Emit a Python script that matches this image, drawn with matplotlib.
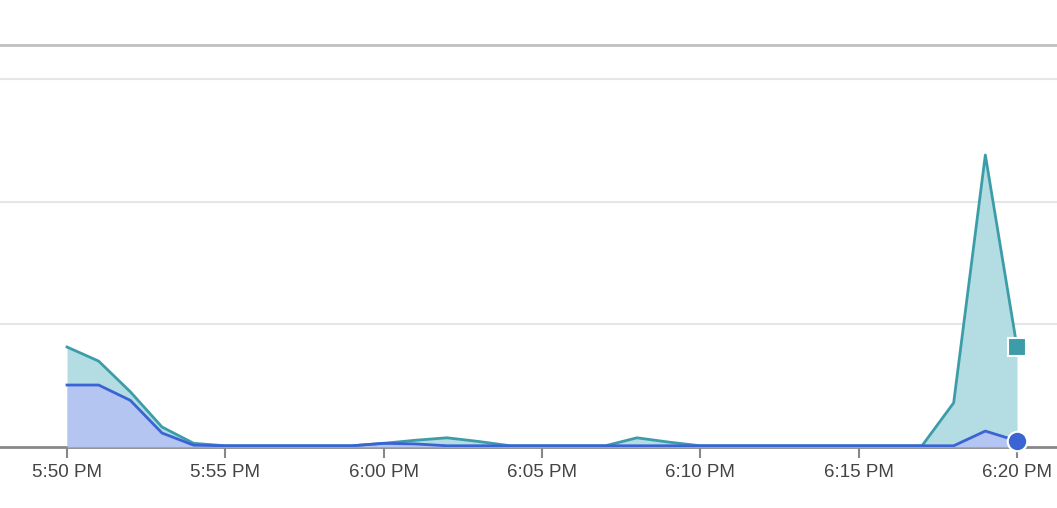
import matplotlib
matplotlib.use("Agg")
import matplotlib.pyplot as plt
import numpy as np

minutes = list(range(31))  # 5:50 PM .. 6:20 PM, one point per minute
teal_values = [0.815, 0.70, 0.45, 0.163, 0.03, 0.01, 0.01, 0.01, 0.01, 0.01,
               0.03, 0.055, 0.075, 0.045, 0.01, 0.01, 0.01, 0.01, 0.075, 0.04,
               0.01, 0.01, 0.01, 0.01, 0.01, 0.01, 0.01, 0.01, 0.36, 2.38, 0.815]
blue_values = [0.505, 0.505, 0.38, 0.114, 0.015, 0.01, 0.01, 0.01, 0.01, 0.01,
               0.03, 0.025, 0.01, 0.01, 0.01, 0.01, 0.01, 0.01, 0.01, 0.01,
               0.01, 0.01, 0.01, 0.01, 0.01, 0.01, 0.01, 0.01, 0.01, 0.13, 0.05]
tick_positions = [0, 5, 10, 15, 20, 25, 30]
tick_labels = ["5:50 PM", "5:55 PM", "6:00 PM", "6:05 PM", "6:10 PM", "6:15 PM", "6:20 PM"]

plt.rcParams['font.family'] = ['Liberation Sans', 'DejaVu Sans']

fig = plt.figure(figsize=(10.57, 5.08), dpi=100)
ax = fig.add_axes([0, 1 - 447 / 508, 1, (447 - 45) / 508])

teal_line = "#3c9da8"
teal_fill = "#b3dce3"
blue_line = "#3a63d4"
blue_fill = "#b5c5f1"

ax.fill_between(minutes, 0, teal_values, color=teal_fill, linewidth=0, zorder=2)
ax.fill_between(minutes, 0, blue_values, color=blue_fill, linewidth=0, zorder=3)
ax.plot(minutes, teal_values, color=teal_line, linewidth=2, zorder=4)
ax.plot(minutes, blue_values, color=blue_line, linewidth=2, zorder=5)
ax.plot(minutes[-1], teal_values[-1], marker="s", markersize=13, color=teal_line,
        markeredgecolor="white", markeredgewidth=1.5, zorder=6, clip_on=False)
ax.plot(minutes[-1], blue_values[-1], marker="o", markersize=14, color=blue_line,
        markeredgecolor="white", markeredgewidth=1.5, zorder=7, clip_on=False)

px_per_min = 950 / 30
ax.set_xlim(-67 / px_per_min, 30 + 40 / px_per_min)
ax.set_ylim(0, 402 / 122.7)

ax.set_yticks([1, 2, 3])
ax.yaxis.grid(True, color="#e6e6e6", linewidth=1.5, zorder=0)
ax.tick_params(axis="y", left=False, labelleft=False)
ax.set_axisbelow(True)

ax.set_xticks(tick_positions)
ax.set_xticklabels(tick_labels, fontsize=13.5, color="#444444")
ax.tick_params(axis="x", length=8, width=1.5, color="#888888", pad=4)

for side in ["left", "right"]:
    ax.spines[side].set_visible(False)
ax.spines["bottom"].set_color("#888888")
ax.spines["bottom"].set_linewidth(2)
ax.spines["top"].set_color("#c0c0c0")
ax.spines["top"].set_linewidth(2)

fig.savefig("out.png", dpi=100)
